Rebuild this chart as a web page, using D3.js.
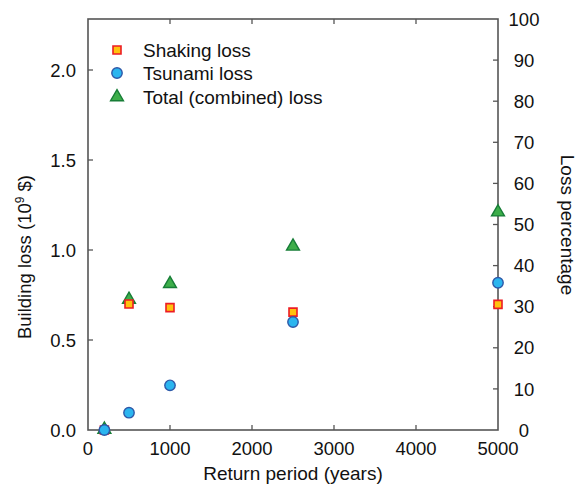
<!DOCTYPE html>
<html>
<head>
<meta charset="utf-8">
<script src="https://cdn.jsdelivr.net/npm/d3@7"></script>
<style>
  html, body { margin: 0; padding: 0; background: #fff; }
  text { font-family: "Liberation Sans", Arial, sans-serif; fill: #111; }
</style>
</head>
<body>
<svg id="chart" width="580" height="488"></svg>
<script>
// ---- data ----
const returnPeriods = [200, 500, 1000, 2500, 5000];
const shakingLoss = [0.0, 0.70, 0.68, 0.655, 0.698];
const tsunamiLoss = [0.0, 0.096, 0.248, 0.60, 0.818];
const totalLoss = [0.003, 0.725, 0.812, 1.02, 1.21];
const seriesNames = ["Shaking loss", "Tsunami loss", "Total (combined) loss"];
const xTicks = [0, 1000, 2000, 3000, 4000, 5000];
const yLeftTicks = [0.0, 0.5, 1.0, 1.5, 2.0];
const yRightTicks = [0, 10, 20, 30, 40, 50, 60, 70, 80, 90, 100];

const svg = d3.select("#chart");
const L = 88, R = 498, T = 19, B = 430;
const x = d3.scaleLinear().domain([0, 5000]).range([L, R]);
const yL = d3.scaleLinear().domain([0, 411 / 180]).range([B, T]);
const yR = d3.scaleLinear().domain([0, 100]).range([B, T]);

const axisColor = "#555";
const fs = 18.5;

// frame
svg.append("rect").attr("x", L).attr("y", T).attr("width", R - L).attr("height", B - T)
  .attr("fill", "none").attr("stroke", axisColor).attr("stroke-width", 1.6);

// ticks (inward)
const tl = 5;
const tg = svg.append("g").attr("stroke", axisColor).attr("stroke-width", 1.3);
xTicks.slice(1, -1).forEach(v => {
  tg.append("line").attr("x1", x(v)).attr("x2", x(v)).attr("y1", B).attr("y2", B - tl);
  tg.append("line").attr("x1", x(v)).attr("x2", x(v)).attr("y1", T).attr("y2", T + tl);
});
yLeftTicks.slice(1).forEach(v => {
  tg.append("line").attr("x1", L).attr("x2", L + tl).attr("y1", yL(v)).attr("y2", yL(v));
});
yRightTicks.slice(1, -1).forEach(v => {
  tg.append("line").attr("x1", R).attr("x2", R - tl).attr("y1", yR(v)).attr("y2", yR(v));
});

// tick labels
svg.append("g").selectAll("text").data(xTicks).join("text")
  .attr("x", d => x(d)).attr("y", 455).attr("text-anchor", "middle")
  .attr("font-size", fs).text(d => d);
svg.append("g").selectAll("text").data(yLeftTicks).join("text")
  .attr("x", 76).attr("y", d => yL(d)).attr("dy", "0.36em").attr("text-anchor", "end")
  .attr("font-size", fs).text(d => d.toFixed(1));
svg.append("g").selectAll("text").data(yRightTicks).join("text")
  .attr("x", 524).attr("y", d => yR(d)).attr("dy", "0.36em").attr("text-anchor", "middle")
  .attr("font-size", fs).text(d => d);

// axis titles
svg.append("text").attr("x", 293).attr("y", 480).attr("text-anchor", "middle")
  .attr("font-size", 19).text("Return period (years)");
const yt = svg.append("text").attr("transform", "translate(31,257) rotate(-90)")
  .attr("text-anchor", "middle").attr("font-size", 18.5);
yt.append("tspan").text("Building loss (10");
yt.append("tspan").attr("font-size", 12).attr("dy", -7).text("9");
yt.append("tspan").attr("dy", 7).text(" $)");
svg.append("text").attr("transform", "translate(561,225) rotate(90)")
  .attr("text-anchor", "middle").attr("font-size", 19).text("Loss percentage");

// styles
const styles = [
  { sym: d3.symbolSquare, size: 64, fill: "#ffc20e", stroke: "#ed1c24", sw: 1.6 },
  { sym: d3.symbolCircle, size: 85, fill: "#2bb5ef", stroke: "#2d58a8", sw: 1.4 },
  { sym: d3.symbolTriangle, size: 72, fill: "#3dae4a", stroke: "#177d37", sw: 1.4 }
];
const allSeries = [shakingLoss, tsunamiLoss, totalLoss];

// points: draw total first (beneath), then shaking, then tsunami
[2, 0, 1].forEach(si => {
  const st = styles[si];
  svg.append("g").selectAll("path").data(returnPeriods).join("path")
    .attr("d", d3.symbol().type(st.sym).size(st.size))
    .attr("transform", (d, i) => `translate(${x(d)},${yL(allSeries[si][i])})`)
    .attr("fill", st.fill).attr("stroke", st.stroke).attr("stroke-width", st.sw);
});

// legend
const legY = [50, 73, 97];
seriesNames.forEach((name, i) => {
  const st = styles[i];
  svg.append("path").attr("d", d3.symbol().type(st.sym).size(st.size))
    .attr("transform", `translate(117,${legY[i]})`)
    .attr("fill", st.fill).attr("stroke", st.stroke).attr("stroke-width", st.sw);
  svg.append("text").attr("x", 143).attr("y", legY[i]).attr("dy", "0.36em")
    .attr("font-size", 19).text(name);
});
</script>
</body>
</html>
